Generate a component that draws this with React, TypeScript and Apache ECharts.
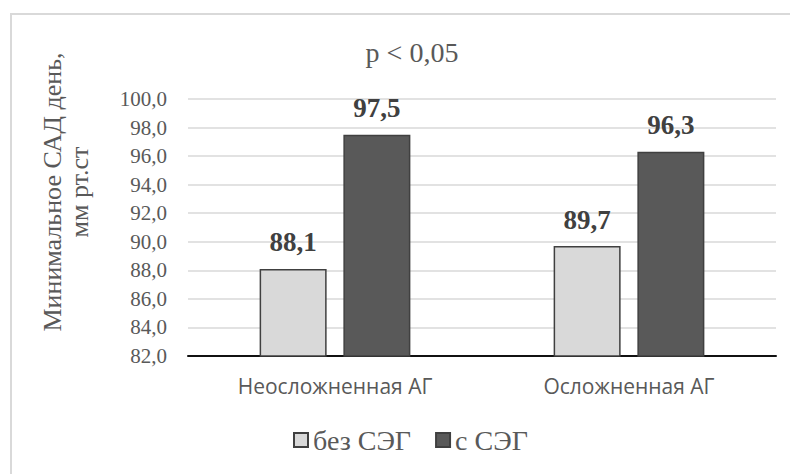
import React, { useEffect, useRef } from "react";
import * as echarts from "echarts";

const categories = ["Неосложненная АГ", "Осложненная АГ"];
const seriesNames = ["без СЭГ", "с СЭГ"];
const withoutSEG = [88.1, 89.7];
const withSEG = [97.5, 96.3];
const yMin = 82;
const yMax = 100;
const yStep = 2;
const titleText = "p < 0,05";
const yAxisTitle = "Минимальное САД день,\nмм рт.ст";

const SERIF = "Liberation Serif";
const SANS = "Open Sans";

export default function App() {
  const ref = useRef<HTMLDivElement>(null);

  useEffect(() => {
    if (!ref.current) return;
    const chart = echarts.init(ref.current, null, { renderer: "svg" });
    const fmt = (v: number) => v.toFixed(1).replace(".", ",");
    const labelCfg = {
      show: true,
      position: "top",
      distance: 13,
      fontFamily: SERIF,
      fontWeight: "bold",
      fontSize: 27,
      color: "#404040",
      formatter: (p: any) => fmt(p.value),
    };
    chart.setOption({
      animation: false,
      backgroundColor: "#ffffff",
      textStyle: { fontFamily: SERIF },
      title: {
        text: titleText,
        left: 407,
        top: 33,
        textAlign: "center",
        textStyle: {
          fontFamily: SERIF,
          fontWeight: "normal",
          fontSize: 28,
          color: "#595959",
        },
      },
      graphic: [
        {
          type: "rect",
          shape: { x: 11, y: 14, width: 1000, height: 1000 },
          style: { fill: "none", stroke: "#d9d9d9", lineWidth: 2 },
          silent: true,
          z: -1,
        },
        {
          type: "text",
          x: 66,
          y: 192,
          rotation: Math.PI / 2,
          style: {
            text: yAxisTitle,
            fontFamily: SERIF,
            fontSize: 26,
            lineHeight: 27,
            fill: "#595959",
            textAlign: "center",
            textVerticalAlign: "middle",
          },
        },
      ],
      legend: {
        data: seriesNames,
        left: 293,
        top: 426,
        padding: 0,
        icon: "rect",
        itemWidth: 14,
        itemHeight: 14,
        itemGap: 24,
        textStyle: { fontFamily: SERIF, fontSize: 28, color: "#595959" },
      },
      grid: { left: 188, right: 14, top: 99, bottom: 118, containLabel: false },
      xAxis: {
        type: "category",
        data: categories,
        axisLine: { lineStyle: { color: "#111111", width: 2 } },
        axisTick: { show: false },
        axisLabel: {
          margin: 19,
          fontFamily: SANS,
          fontSize: 21,
          color: "#595959",
        },
      },
      yAxis: {
        type: "value",
        min: yMin,
        max: yMax,
        interval: yStep,
        axisLine: { show: false },
        axisTick: { show: false },
        splitLine: { lineStyle: { color: "#d9d9d9", width: 1.5 } },
        axisLabel: {
          margin: 21,
          formatter: (v: number) => "{v|" + fmt(v) + "}",
          rich: {
            v: { fontFamily: SERIF, fontSize: 21, color: "#595959" },
          },
        },
      },
      series: [
        {
          name: seriesNames[0],
          type: "bar",
          data: withoutSEG,
          barWidth: 67,
          barGap: "25%",
          itemStyle: { color: "#d9d9d9", borderColor: "#404040", borderWidth: 1.5 },
          label: labelCfg,
        },
        {
          name: seriesNames[1],
          type: "bar",
          data: withSEG,
          barWidth: 67,
          itemStyle: { color: "#595959", borderColor: "#404040", borderWidth: 1.5 },
          label: labelCfg,
        },
      ],
    });
    return () => chart.dispose();
  }, []);

  return (
    <div
      ref={ref}
      style={{ position: "fixed", left: 0, top: 0, width: 790, height: 474 }}
    />
  );
}
